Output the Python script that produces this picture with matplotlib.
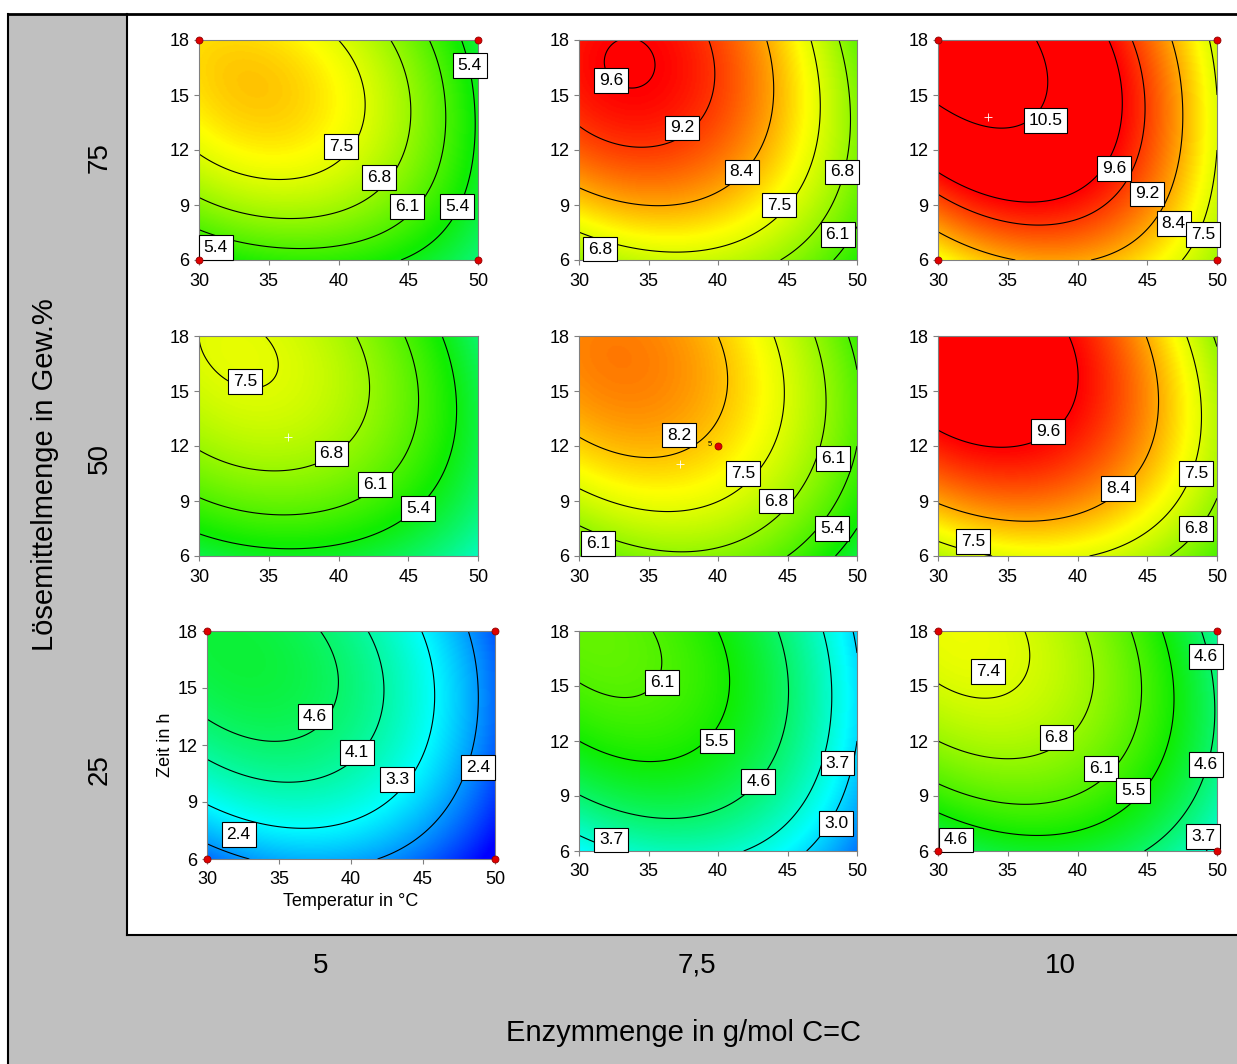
import numpy as np
import matplotlib
matplotlib.use("Agg")
import matplotlib.pyplot as plt
from matplotlib.colors import LinearSegmentedColormap, Normalize
from matplotlib.patches import Rectangle
from matplotlib.lines import Line2D

plt.rcParams["font.family"] = ["Liberation Sans", "DejaVu Sans"]

# factor axes
TEMP = [30, 40, 50]          # Temperatur in °C
TIME = [6, 12, 18]           # Zeit in h
ENZYME_LABELS = ["5", "7,5", "10"]
SOLVENT_LABELS = ["75", "50", "25"]

# response at T = 30/40/50 (columns), t = 6/12/18 (rows)
RESP_75_5 = [[5.3, 5.75, 4.5], [7.55, 7.6, 5.3], [8.0, 7.5, 5.0]]
RESP_75_75 = [[6.8, 7.25, 5.7], [8.95, 8.85, 6.6], [9.45, 9.1, 6.3]]
RESP_75_10 = [[7.7, 8.45, 6.9], [9.95, 10.0, 7.5], [10.9, 10.05, 7.3]]
RESP_50_5 = [[4.9, 5.15, 3.9], [6.85, 6.85, 4.9], [7.5, 7.0, 4.6]]
RESP_50_75 = [[6.1, 6.65, 5.0], [8.1, 8.05, 6.1], [8.65, 8.2, 5.9]]
RESP_50_10 = [[7.1, 7.55, 6.1], [9.4, 9.3, 7.1], [10.1, 9.5, 6.7]]
RESP_25_5 = [[2.0, 2.55, 0.8], [4.3, 4.25, 1.9], [5.0, 4.3, 1.8]]
RESP_25_75 = [[3.3, 3.85, 2.1], [5.5, 5.4, 3.0], [6.3, 5.5, 2.9]]
RESP_25_10 = [[4.55, 5.1, 3.5], [6.8, 6.7, 4.5], [7.6, 6.9, 4.2]]

LEVELS = [
    [5.4, 6.1, 6.8, 7.5],
    [6.1, 6.8, 7.5, 8.4, 9.2, 9.6],
    [7.5, 8.4, 9.2, 9.6, 10.5],
    [5.4, 6.1, 6.8, 7.5],
    [5.4, 6.1, 6.8, 7.5, 8.2],
    [6.8, 7.5, 8.4, 9.6],
    [2.4, 3.3, 4.1, 4.6],
    [3.0, 3.7, 4.6, 5.5, 6.1],
    [3.7, 4.6, 5.5, 6.1, 6.8, 7.4],
]

# contour label boxes: (value, T, t)
LABELS = [
    [(5.4, 49.4, 16.6), (7.5, 40.2, 12.2), (6.8, 42.9, 10.5), (6.1, 44.9, 8.9),
     (5.4, 48.5, 8.9), (5.4, 31.2, 6.7)],
    [(9.6, 32.3, 15.8), (9.2, 37.4, 13.2), (8.4, 41.7, 10.8), (7.5, 44.4, 9.0),
     (6.8, 48.9, 10.8), (6.1, 48.6, 7.4), (6.8, 31.5, 6.6)],
    [(10.5, 37.7, 13.6), (9.6, 42.6, 11.0), (9.2, 45.0, 9.6), (8.4, 46.9, 8.0),
     (7.5, 49.0, 7.4)],
    [(7.5, 33.3, 15.5), (6.8, 39.5, 11.6), (6.1, 42.6, 9.9), (5.4, 45.7, 8.6)],
    [(8.2, 37.2, 12.6), (7.5, 41.8, 10.5), (6.8, 44.2, 9.0), (6.1, 48.3, 11.3),
     (5.4, 48.2, 7.5), (6.1, 31.4, 6.7)],
    [(9.6, 37.9, 12.8), (8.4, 42.9, 9.7), (7.5, 48.5, 10.5), (6.8, 48.5, 7.5),
     (7.5, 32.5, 6.8)],
    [(4.6, 37.5, 13.5), (4.1, 40.4, 11.6), (3.3, 43.2, 10.2), (2.4, 48.8, 10.8),
     (2.4, 32.2, 7.3)],
    [(6.1, 36.0, 15.2), (5.5, 39.9, 12.0), (4.6, 42.9, 9.8), (3.7, 48.6, 10.8),
     (3.0, 48.5, 7.5), (3.7, 32.3, 6.6)],
    [(7.4, 33.6, 15.8), (6.8, 38.5, 12.2), (6.1, 41.7, 10.5), (5.5, 44.0, 9.3),
     (4.6, 49.2, 16.6), (4.6, 49.2, 10.7), (3.7, 49.0, 6.8), (4.6, 31.3, 6.6)],
]

# design points shown as red dots (T, t), optimum markers (white +)
DESIGN_PTS = [
    [(30, 6), (50, 6), (30, 18), (50, 18)], [], [(30, 6), (50, 6), (30, 18), (50, 18)],
    [], [(40, 12)], [],
    [(30, 6), (50, 6), (30, 18), (50, 18)], [], [(30, 6), (50, 6), (30, 18), (50, 18)],
]
PLUS_PTS = [[], [], [(33.6, 13.8)], [(36.4, 12.5)], [(37.3, 11.0)], [], [], [], []]

RESPONSES = [RESP_75_5, RESP_75_75, RESP_75_10,
             RESP_50_5, RESP_50_75, RESP_50_10,
             RESP_25_5, RESP_25_75, RESP_25_10]

CMAP_STOPS = [1.0, 3.3, 5.5, 7.8, 9.6]
CMAP_COLORS = ["#0000ff", "#00ffff", "#10ee00", "#ffff00", "#ff0000"]


def surface(vals, T, t):
    """Quadratic response surface through the 3x3 read values."""
    u = (T - 40.0) / 10.0
    v = (t - 12.0) / 6.0
    bu = [u * (u - 1) / 2, 1 - u ** 2, u * (u + 1) / 2]
    bv = [v * (v - 1) / 2, 1 - v ** 2, v * (v + 1) / 2]
    z = np.zeros_like(T, dtype=float)
    for j in range(3):
        for i in range(3):
            z += vals[j][i] * bu[i] * bv[j]
    return z


W, H = 1237, 1064
fig = plt.figure(figsize=(W / 100, H / 100), dpi=100)

vmin, vmax = CMAP_STOPS[0], CMAP_STOPS[-1]
pos = [(s - vmin) / (vmax - vmin) for s in CMAP_STOPS]
cmap = LinearSegmentedColormap.from_list("dx", list(zip(pos, CMAP_COLORS)))
norm = Normalize(vmin, vmax)


def fx(x):
    return x / W


def fy(y):
    return 1 - y / H


# frame: grey bands + black lines (pixel coords)
fig.patches.append(Rectangle((fx(8), 0), fx(127) - fx(8), fy(14), transform=fig.transFigure,
                             facecolor="#c0c0c0", edgecolor="none", zorder=0))
fig.patches.append(Rectangle((fx(8), 0), 1 - fx(8), fy(935), transform=fig.transFigure,
                             facecolor="#c0c0c0", edgecolor="none", zorder=0))
for xs, ys, lw in [((8, W), (14, 14), 2.0), ((8, 8), (14, H), 1.5),
                   ((127, 127), (14, 935), 1.5), ((127, W), (935, 935), 1.5)]:
    fig.lines.append(Line2D([fx(xs[0]), fx(xs[1])], [fy(ys[0]), fy(ys[1])],
                            transform=fig.transFigure, color="black", lw=lw, zorder=1))

col_x = [(199, 478), (579, 857), (938, 1217)]
row_y = [(40, 260), (336, 556), (631, 851)]

Tg, tg = np.meshgrid(np.linspace(30, 50, 201), np.linspace(6, 18, 201))

for k in range(9):
    r, c = divmod(k, 3)
    x0, x1 = col_x[c]
    y0, y1 = row_y[r]
    if k == 6:
        x0, x1, y0, y1 = 207, 495, 631, 859
    ax = fig.add_axes([fx(x0), fy(y1), (x1 - x0) / W, (y1 - y0) / H])
    Z = surface(RESPONSES[k], Tg, tg)
    ax.imshow(Z, origin="lower", extent=(30, 50, 6, 18), aspect="auto",
              cmap=cmap, norm=norm, interpolation="bilinear")
    ax.contour(Tg, tg, Z, levels=LEVELS[k], colors="black", linewidths=0.8)
    for val, T, t in LABELS[k]:
        ax.text(T, t, f"{val:.1f}", ha="center", va="center", fontsize=12.5, zorder=5,
                bbox=dict(boxstyle="square,pad=0.28", facecolor="white",
                          edgecolor="black", linewidth=0.8))
    for T, t in DESIGN_PTS[k]:
        ax.plot(T, t, "o", ms=5, mfc="#e00000", mec="#900000", mew=0.6,
                clip_on=False, zorder=6)
    if k == 4:
        ax.text(39.6, 12.1, "5", fontsize=5.5, ha="right", va="center", zorder=6)
    for T, t in PLUS_PTS[k]:
        ax.plot(T, t, "+", ms=6, color="white", mew=0.6, zorder=6)
    ax.set_xlim(30, 50)
    ax.set_ylim(6, 18)
    ax.set_xticks([30, 35, 40, 45, 50])
    ax.set_yticks([6, 9, 12, 15, 18])
    ax.tick_params(direction="out", length=3.5, width=0.8, color="#808080",
                   labelsize=13, pad=3.5)
    ax.tick_params(axis="x", pad=5.5)
    for sp in ax.spines.values():
        sp.set_color("#808080")
        sp.set_linewidth(0.8)
    if k == 6:
        ax.set_xlabel("Temperatur in °C", fontsize=13, labelpad=3)
        ax.set_ylabel("Zeit in h", fontsize=13, labelpad=2)

# outer factor labels
for lab, y in zip(SOLVENT_LABELS, [158, 458, 770]):
    fig.text(fx(100), fy(y), lab, rotation=90, ha="center", va="center", fontsize=20)
for lab, x in zip(ENZYME_LABELS, [321, 697, 1060]):
    fig.text(fx(x), fy(966), lab, ha="center", va="center", fontsize=20)
fig.text(fx(684), fy(1033), "Enzymmenge in g/mol C=C", ha="center", va="center", fontsize=21)
fig.text(fx(45), fy(475), "Lösemittelmenge in Gew.%", rotation=90, ha="center",
         va="center", fontsize=21)

fig.savefig("out.png", dpi=100, facecolor="white")
